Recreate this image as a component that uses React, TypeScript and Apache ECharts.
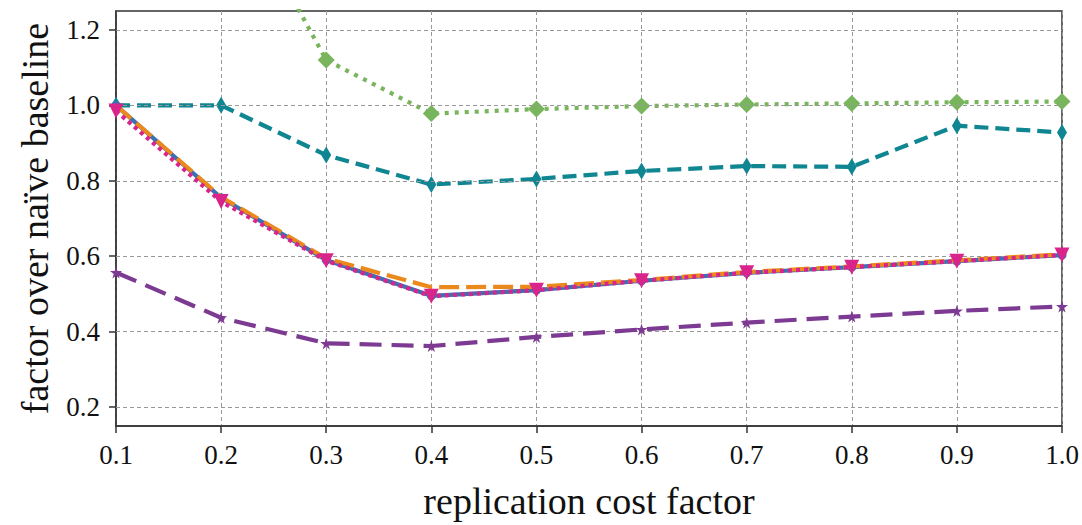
import React, { useEffect, useRef } from "react";
import * as echarts from "echarts";

const categories = ["0.1", "0.2", "0.3", "0.4", "0.5", "0.6", "0.7", "0.8", "0.9", "1.0"];
const yTicks = [0.2, 0.4, 0.6, 0.8, 1.0, 1.2];
const greenValues = [2.2, 1.63, 1.12, 0.978, 0.99, 0.998, 1.002, 1.005, 1.008, 1.01];
const tealValues = [1.0, 1.0, 0.868, 0.79, 0.805, 0.826, 0.839, 0.837, 0.946, 0.928];
const blueValues = [1.0, 0.755, 0.59, 0.495, 0.51, 0.535, 0.556, 0.571, 0.587, 0.603];
const orangeValues = [1.0, 0.757, 0.594, 0.518, 0.519, 0.537, 0.558, 0.573, 0.589, 0.605];
const magentaValues = [0.985, 0.745, 0.588, 0.494, 0.51, 0.535, 0.556, 0.571, 0.587, 0.603];
const purpleValues = [0.557, 0.437, 0.369, 0.362, 0.386, 0.406, 0.424, 0.44, 0.455, 0.467];

const STAR = "path://M50,0 L61,35 L98,35 L68,57 L79,91 L50,70 L21,91 L32,57 L2,35 L39,35 Z";
const FONT = "Liberation Serif";

export default function App() {
  const ref = useRef<HTMLDivElement>(null);
  useEffect(() => {
    const chart = echarts.init(ref.current!, null, { renderer: "svg" });
    const line = (name: string, data: number[], color: string, type: any, extra: any = {}) => ({
      name,
      type: "line",
      data,
      clip: true,
      showSymbol: true,
      lineStyle: { color, width: 4.2, type, cap: "butt" },
      itemStyle: { color },
      ...extra,
    });
    chart.setOption({
      animation: false,
      backgroundColor: "#fff",
      grid: {
        left: 116,
        right: 20,
        top: 11,
        bottom: 94,
        show: true,
        borderColor: "#333",
        borderWidth: 1.5,
        backgroundColor: "transparent",
      },
      xAxis: {
        type: "category",
        data: categories,
        boundaryGap: false,
        name: "replication cost factor",
        nameLocation: "middle",
        nameGap: 56,
        nameTextStyle: { fontFamily: FONT, fontSize: 38, color: "#111" },
        axisLine: { lineStyle: { color: "#333", width: 1.5 } },
        axisTick: { show: true, length: 7, inside: false, lineStyle: { color: "#333", width: 1.5 }, alignWithLabel: true },
        axisLabel: { fontFamily: FONT, fontSize: 27, color: "#111", margin: 15 },
        splitLine: { show: true, lineStyle: { color: "#999", width: 1, type: [4, 3] } },
      },
      yAxis: {
        type: "value",
        min: 0.15,
        max: 1.25,
        name: "factor over naïve baseline",
        nameLocation: "middle",
        nameGap: 62,
        nameRotate: 90,
        nameTextStyle: { fontFamily: FONT, fontSize: 38, color: "#111" },
        axisLine: { show: true, lineStyle: { color: "#333", width: 1.5 } },
        axisTick: { show: true, length: 7, customValues: yTicks, lineStyle: { color: "#333", width: 1.5 } },
        axisLabel: {
          fontFamily: FONT,
          fontSize: 27,
          color: "#111",
          margin: 16,
          customValues: yTicks,
          formatter: (v: number) => v.toFixed(1),
        },
        splitLine: { show: false },
      },
      series: [
        {
          type: "line",
          data: [],
          silent: true,
          z: 0,
          markLine: {
            silent: true,
            symbol: "none",
            label: { show: false },
            lineStyle: { color: "#999", width: 1, type: [4, 3] },
            data: yTicks.map((v) => ({ yAxis: v })),
          },
        },
        line("green", greenValues, "#78b55c", [4, 6], {
          symbol: "diamond",
          symbolSize: 17,
          z: 3,
        }),
        line("teal", tealValues, "#0f8691", [14, 7], {
          symbol: "diamond",
          symbolSize: [10, 17],
          z: 4,
        }),
        line("blue", blueValues, "#3d6fb3", "solid", {
          symbol: "circle",
          symbolSize: 9,
          z: 5,
        }),
        line("orange", orangeValues, "#eb8a1c", [20, 7], {
          symbol: "none",
          z: 6,
        }),
        line("magenta", magentaValues, "#d8248b", [4, 4], {
          symbol: "triangle",
          symbolRotate: 180,
          symbolSize: 15,
          z: 7,
        }),
        line("purple", purpleValues, "#7d3a92", [22, 10], {
          symbol: STAR,
          symbolSize: 12,
          z: 8,
        }),
      ],
    });
    return () => chart.dispose();
  }, []);
  return (
    <div
      ref={ref}
      style={{ position: "absolute", left: 0, top: 0, width: 1082, height: 525 }}
    />
  );
}
